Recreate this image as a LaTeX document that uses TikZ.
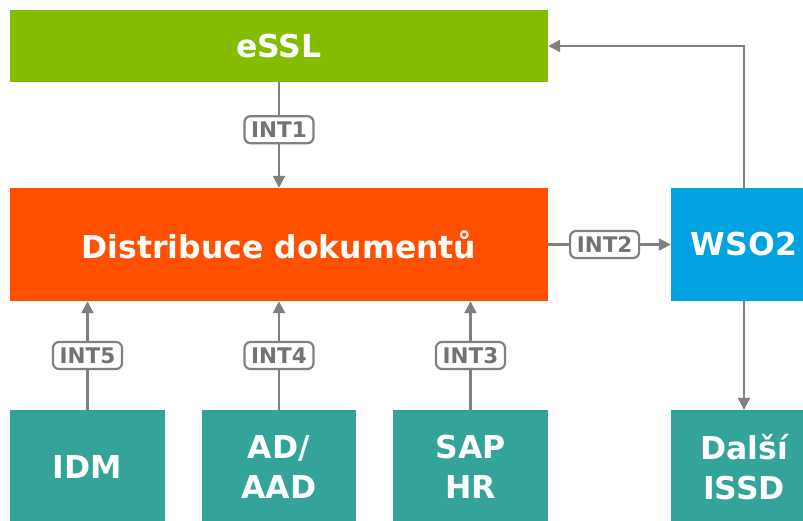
\documentclass[tikz,border=0pt]{standalone}
\usepackage{fontspec}
\setmainfont{DejaVu Sans}
\definecolor{esslgreen}{RGB}{132,188,0}
\definecolor{distorange}{RGB}{255,80,0}
\definecolor{wsoblue}{RGB}{0,163,224}
\definecolor{systeal}{RGB}{52,163,154}
\definecolor{intgray}{RGB}{128,128,128}
\usepackage{tikz}
\usetikzlibrary{arrows.meta,positioning}

\begin{document}
\begin{tikzpicture}[x=1pt, y=-1pt,
    box/.style={text=white, font=\fontsize{31.5}{40}\selectfont\bfseries, align=center, inner sep=0pt},
    intlabel/.style={draw=intgray, line width=2.2pt, rounded corners=6pt, fill=white, text=intgray!90!black,
        font=\fontsize{21.5}{21.5}\selectfont\bfseries, minimum width=69pt, minimum height=27pt, inner sep=0pt},
    link/.style={intgray, line width=2.2pt, -{Triangle[length=12pt,width=12pt]}}]
    \useasboundingbox (0,0) rectangle (803,521);

    % Systems
    \node[box, fill=esslgreen, minimum width=538pt, minimum height=72pt] (essl) at (279,46) {eSSL};
    \node[box, fill=distorange, minimum width=538pt, minimum height=113pt] (dist) at (279,244.5) {Distribuce dokumentů};
    \node[box, fill=wsoblue, minimum width=146pt, minimum height=113pt] (wso) at (744,244.5) {WSO2};

    \node[box, fill=systeal, minimum width=155pt, minimum height=114pt] (idm) at (87.5,467) {IDM};
    \node[box, fill=systeal, minimum width=154pt, minimum height=114pt] (ad) at (279,467) {AD/\\AAD};
    \node[box, fill=systeal, minimum width=155pt, minimum height=114pt] (sap) at (470.5,467) {SAP\\HR};
    \node[box, fill=systeal, minimum width=146pt, minimum height=114pt] (dalsi) at (744,467) {Další\\ISSD};

    % Interfaces
    \draw[link] (essl) -- node[intlabel, pos=0.45] (int1) {INT1} (dist);
    \draw[link] (dist) -- node[intlabel, pos=0.46] (int2) {INT2} (wso);
    \draw[link] (sap.north) -- node[intlabel] (int3) {INT3} (sap.north |- dist.south);
    \draw[link] (ad.north) -- node[intlabel] (int4) {INT4} (ad.north |- dist.south);
    \draw[link] (idm.north) -- node[intlabel] (int5) {INT5} (idm.north |- dist.south);

    % WSO2 links
    \draw[link] (wso.north) |- (essl.east);
    \draw[link] (wso) -- (dalsi);
\end{tikzpicture}
\end{document}
